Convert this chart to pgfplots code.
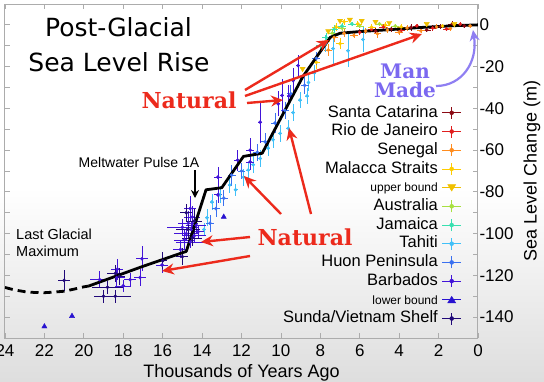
\documentclass[border=0pt]{standalone}
\usepackage{pgfplots}
\pgfplotsset{compat=1.18}
\usepackage{fontspec}
\setmainfont{Liberation Sans}
\newfontfamily\titlefont{DejaVu Sans}
\newfontfamily\slabfont{DejaVu Serif}
\usetikzlibrary{arrows.meta}
\definecolor{cSC}{HTML}{8B0A14}
\definecolor{cRJ}{HTML}{E01E1E}
\definecolor{cSE}{HTML}{FF8C1E}
\definecolor{cMA}{HTML}{FFCC00}
\definecolor{cUB}{HTML}{F0C000}
\definecolor{cAU}{HTML}{A8E040}
\definecolor{cJA}{HTML}{38E0B0}
\definecolor{cTA}{HTML}{40C0F8}
\definecolor{cHU}{HTML}{3A70F0}
\definecolor{cBA}{HTML}{4214D8}
\definecolor{cLB}{HTML}{2812D0}
\definecolor{cSU}{HTML}{200878}
\definecolor{natred}{HTML}{EC2A1C}
\definecolor{manpurple}{HTML}{7B68F0}
\pgfplotsset{
 ebser/.style={only marks, mark=*, mark size=1.6pt, color=#1, mark options={fill=#1, draw=#1},
   legend image code/.code={\draw[#1, line width=0.7pt] (0pt,0pt)--(19pt,0pt) (9.5pt,-6pt)--(9.5pt,6pt); \fill[#1] (9.5pt,0pt) circle (2pt);},
   error bars/.cd, x dir=both, x explicit, y dir=both, y explicit, error mark=none,
   error bar style={line width=0.6pt, #1}},
}
\begin{document}
\begin{tikzpicture}
\shade[top color=white, bottom color=black!13] (-5pt,-43pt) rectangle (539pt,150pt);
\begin{axis}[
 scale only axis, width=473pt, height=334pt,
 x dir=reverse, xmin=0, xmax=24, ymin=-150, ymax=10,
 xtick={0,2,...,24}, ytick={-140,-120,...,0}, minor ytick={-130,-110,...,-10},
 yticklabel pos=right,
 ticklabel style={font=\fontsize{17}{17}\selectfont},
 xticklabel style={yshift=-3pt},
 yticklabel style={xshift=-2pt},
 /pgf/number format/assume math mode=true,
 axis line style={color=gray!65, line width=1pt},
 every tick/.style={color=gray!65, line width=0.8pt},
 major tick length=5pt, minor tick length=5pt, tick align=inside,
 xlabel={Thousands of Years Ago}, ylabel={Sea Level Change (m)},
 label style={font=\fontsize{18}{18}\selectfont},
 xlabel style={at={(axis description cs:0.5,0)}, anchor=base, yshift=-39pt},
 ylabel style={at={(axis description cs:1.114,0.5)}, anchor=center},
 legend plot pos=right,
 legend cell align=right,
 legend style={draw=none, fill=none, at={(0.972,0.707)}, anchor=north east,
   font=\fontsize{16.5}{17}\selectfont, row sep=1.2pt, column sep=3pt,
   nodes={inner sep=1pt, text height=12pt, text depth=3.5pt}},
]
% Santa Catarina
\addplot[ebser=cSC] table[x=x,y=y,x error=ex,y error=ey,row sep=\\]{
x y ex ey\\
5.2 -3.0 0.2 1.5\\ 4.4 -2.0 0.2 1.2\\ 3.4 -1.2 0.2 1.5\\ 2.6 -2.5 0.2 1.0\\
1.9 -0.8 0.2 1.2\\ 1.3 0.5 0.2 1.5\\ 0.7 -0.5 0.1 1.0\\
};
\addlegendentry{Santa Catarina}
% Rio de Janeiro
\addplot[ebser=cRJ] table[x=x,y=y,x error=ex,y error=ey,row sep=\\]{
x y ex ey\\
6.0 -3.5 0.2 1.5\\ 5.4 -2.2 0.2 1.0\\ 4.8 -1.0 0.2 1.5\\ 3.9 -2.8 0.2 1.2\\
3.1 -0.5 0.2 1.0\\ 2.3 -1.5 0.2 1.5\\ 1.6 -2.0 0.2 1.0\\ 0.9 0.3 0.1 1.2\\
};
\addlegendentry{Rio de Janeiro}
% Senegal
\addplot[ebser=cSE] table[x=x,y=y,x error=ex,y error=ey,row sep=\\]{
x y ex ey\\
7.6 -12.0 0.2 3.0\\ 7.3 -6.0 0.2 2.0\\ 6.8 -4.0 0.2 2.0\\ 6.3 -5.0 0.2 1.5\\
5.7 -3.0 0.2 1.5\\ 5.1 -4.2 0.2 2.0\\ 4.6 -2.5 0.2 1.5\\ 4.0 -3.5 0.2 1.5\\
3.6 -1.5 0.2 1.5\\ 2.9 -2.8 0.2 1.2\\ 2.1 -1.0 0.2 1.2\\ 1.4 -1.8 0.1 1.0\\
0.4 -0.5 0.1 1.0\\
};
\addlegendentry{Senegal}
% Malacca Straits
\addplot[ebser=cMA] table[x=x,y=y,x error=ex,y error=ey,row sep=\\]{
x y ex ey\\
8.2 -18.0 0.2 3.0\\ 7.7 -8.0 0.2 2.0\\ 7.2 -1.0 0.2 2.0\\ 7.0 -9.0 0.2 2.5\\
6.8 1.5 0.2 1.5\\ 6.1 0.5 0.2 1.5\\ 5.4 -1.0 0.2 1.5\\ 4.7 0.0 0.2 1.5\\
3.9 -1.0 0.2 1.2\\ 1.8 -0.5 0.2 1.0\\
};
\addlegendentry{Malacca Straits}
% upper bound
\addplot[only marks, mark=triangle*, mark size=3pt, color=cUB, mark options={rotate=180, fill=cUB},
  legend image code/.code={\draw[cUB,line width=0.7pt](0pt,0pt)--(19pt,0pt); \fill[cUB] (9.5pt,-3.5pt)--(5.5pt,3pt)--(13.5pt,3pt)--cycle;}]
 table[row sep=\\]{
x y\\
8.9 -21.0\\ 7.6 -3.0\\ 7.0 2.0\\ 6.5 2.5\\ 5.9 2.0\\ 5.2 1.5\\ 4.5 1.0\\ 2.6 0.5\\ 1.2 0.5\\
};
\addlegendentry{\fontsize{12}{12}\selectfont upper bound}
% Australia
\addplot[ebser=cAU] table[x=x,y=y,x error=ex,y error=ey,row sep=\\]{
x y ex ey\\
7.4 -4.0 0.2 1.5\\ 6.9 -1.5 0.2 1.5\\ 6.0 -0.5 0.2 1.0\\ 5.0 0.5 0.2 1.0\\ 4.2 -0.5 0.2 1.0\\
};
\addlegendentry{Australia}
% Jamaica
\addplot[ebser=cJA] table[x=x,y=y,x error=ex,y error=ey,row sep=\\]{
x y ex ey\\
8.0 -10.0 0.2 2.0\\ 7.7 -6.0 0.2 2.0\\ 7.3 -2.0 0.2 2.0\\ 6.9 -0.5 0.2 1.5\\ 6.4 0.5 0.2 1.0\\
};
\addlegendentry{Jamaica}
% Tahiti
\addplot[ebser=cTA] table[x=x,y=y,x error=ex,y error=ey,row sep=\\]{
x y ex ey\\
13.9 -98 0.1 3\\ 13.75 -92.4 0.1 4\\ 13.5 -84.8 0.1 4\\ 13.1 -81.4 0.1 4\\
12.6 -76.7 0.1 4\\ 12.3 -79 0.1 3\\ 11.9 -73 0.1 4\\ 11.66 -69.5 0.1 4\\
11.4 -67 0.1 4\\ 11.05 -64 0.1 4\\ 10.65 -59 0.1 4\\ 10.4 -55 0.1 4\\
10.04 -52 0.1 4\\ 9.63 -49.5 0.1 4\\ 9.38 -42 0.1 4\\ 9.03 -36 0.1 4\\
8.67 -34 0.1 4\\ 8.6 -27.6 0.1 4\\ 8.3 -23 0.1 4\\ 7.75 -9 0.1 4\\
7.35 -11.4 0.1 8\\ 6.6 -12.4 0.1 8\\ 5.83 -7 0.1 6\\
};
\addlegendentry{Tahiti}
% Huon Peninsula
\addplot[ebser=cHU] table[x=x,y=y,x error=ex,y error=ey,row sep=\\]{
x y ex ey\\
13.6 -95 0.2 4\\ 13.3 -88 0.2 4\\ 12.9 -83 0.2 4\\ 12.5 -72 0.2 5\\
12.0 -70 0.2 4\\ 11.2 -61 0.2 4\\ 10.8 -56 0.2 4\\ 10.3 -47 0.2 5\\
9.8 -41 0.2 4\\ 9.5 -33 0.2 4\\ 8.8 -29 0.2 4\\ 8.2 -16 0.2 3\\
};
\addlegendentry{Huon Peninsula}
% Barbados
\addplot[ebser=cBA] table[x=x,y=y,x error=ex,y error=ey,row sep=\\]{
x y ex ey\\
19.2 -122 0.5 4\\ 18.33 -121 0.4 4\\ 18.3 -117 0.3 5\\ 18.0 -125 0.4 3\\
17.65 -122 0.3 3\\ 17.15 -121 0.3 4\\ 17.05 -112 0.3 6\\ 16.03 -115 0.3 4\\
15.1 -107.6 0.4 4\\ 15.0 -97 0.8 4\\ 14.9 -103 0.5 5\\ 14.8 -100 0.6 3\\
14.7 -95 0.5 6\\ 14.6 -104 0.7 3\\ 14.55 -98 0.4 4\\ 14.5 -92 0.4 5\\
14.4 -101 0.6 3\\ 14.3 -96 0.5 4\\ 14.6 -88 0.3 6\\ 14.2 -99 0.3 3\\
13.2 -72.9 0.2 5\\ 13.2 -81.4 0.2 4\\ 12.2 -64.8 0.2 5\\ 11.56 -60 0.2 6\\
11.56 -65.6 0.2 4\\ 11.05 -46.6 0.1 10\\ 10.14 -37.8 0.1 6\\ 9.94 -33.8 0.1 8\\
9.6 -34 0.1 5\\ 9.38 -26.7 0.1 6\\ 9.13 -19.5 0.1 5\\
};
\addlegendentry{Barbados}
% lower bound
\addplot[only marks, mark=triangle*, mark size=3pt, color=cLB, mark options={fill=cLB},
  legend image code/.code={\draw[cLB,line width=0.7pt](0pt,0pt)--(19pt,0pt); \fill[cLB] (9.5pt,3.5pt)--(5.5pt,-3pt)--(13.5pt,-3pt)--cycle;}]
 table[row sep=\\]{
x y\\
22.0 -144.5\\ 20.6 -139.5\\ 12.9 -92\\
};
\addlegendentry{\fontsize{12}{12}\selectfont lower bound}
% Sunda/Vietnam Shelf
\addplot[ebser=cSU] table[x=x,y=y,x error=ex,y error=ey,row sep=\\]{
x y ex ey\\
21.0 -122.4 0.3 5\\ 18.8 -125.7 0.8 3\\ 19.0 -130 0.5 3\\ 18.4 -130 0.8 3\\
18.2 -120.5 0.3 4\\ 18.4 -119 0.4 4\\ 16.0 -113 0.2 4\\ 15.0 -111 0.3 4\\
14.7 -98 0.6 4\\ 14.5 -102 0.5 4\\ 14.4 -94 0.4 6\\ 14.8 -90 0.3 4\\
};
\addlegendentry{Sunda/Vietnam Shelf}
% reconstructed curve
\addplot[forget plot, black, line width=2.8pt, dash pattern=on 8pt off 5pt] coordinates {
(24,-125.8) (23.5,-127) (23,-127.8) (22.5,-128.2) (22,-128.3) (21.5,-128) (21,-127.6) (20.5,-126.6) (20,-125.5) (19.75,-125.1)};
\addplot[forget plot, black, line width=2.8pt, line join=round] coordinates {
(19.75,-125.1) (17.1,-116) (14.8,-108.5) (13.8,-79) (13,-78) (11.9,-63) (10.95,-61.5) (8.9,-25) (7.5,-6) (7,-4) (6,-3.2) (5,-2.6) (4,-2) (3,-1.3) (2,-0.8) (1,-0.3) (0,0)};
\end{axis}
\begin{scope}[shift={(-5pt,338pt)}, x=1pt, y=-1pt]
 \node[anchor=base, font=\titlefont\fontsize{25}{25}\selectfont] at (118.5,37) {Post-Glacial};
 \node[anchor=base, font=\titlefont\fontsize{25}{25}\selectfont] at (119,72) {Sea Level Rise};
 \node[natred, font=\slabfont\bfseries\fontsize{22}{22}\selectfont] at (189,100) {Natural};
 \node[natred, font=\slabfont\bfseries\fontsize{22}{22}\selectfont] at (305,237) {Natural};
 \node[manpurple, align=center, font=\slabfont\bfseries\fontsize{20}{19}\selectfont] at (405,81) {Man\\Made};
 \draw[manpurple!85, line width=2.2pt, -{Stealth[length=11pt,width=10pt]}] (436,86) .. controls (462,86) and (478,62) .. (473,30);
 \node[font=\fontsize{14}{14}\selectfont] at (139,162) {Meltwater Pulse 1A};
 \draw[black, line width=1.5pt, -{Stealth[length=8pt,width=8pt]}] (195,170) -- (195,198);
 \node[anchor=north west, align=left, inner sep=0pt, font=\fontsize{14.5}{17}\selectfont] at (16,229) {Last Glacial\\Maximum};
 \begin{scope}[natred, line width=2.4pt, -{Stealth[length=12pt,width=11pt]}]
  \draw (245,90) -- (329,40);
  \draw (245,96) -- (422,34);
  \draw (247,103) -- (283,100);
  \draw (250,237) -- (201,242);
  \draw (250,256) -- (162,271);
  \draw (281,214) -- (244,176);
  \draw (311,214) -- (289,128);
 \end{scope}
\end{scope}
\pgfresetboundingbox
\useasboundingbox (-5pt,-43pt) rectangle (539pt,338pt);
\end{tikzpicture}
\end{document}
